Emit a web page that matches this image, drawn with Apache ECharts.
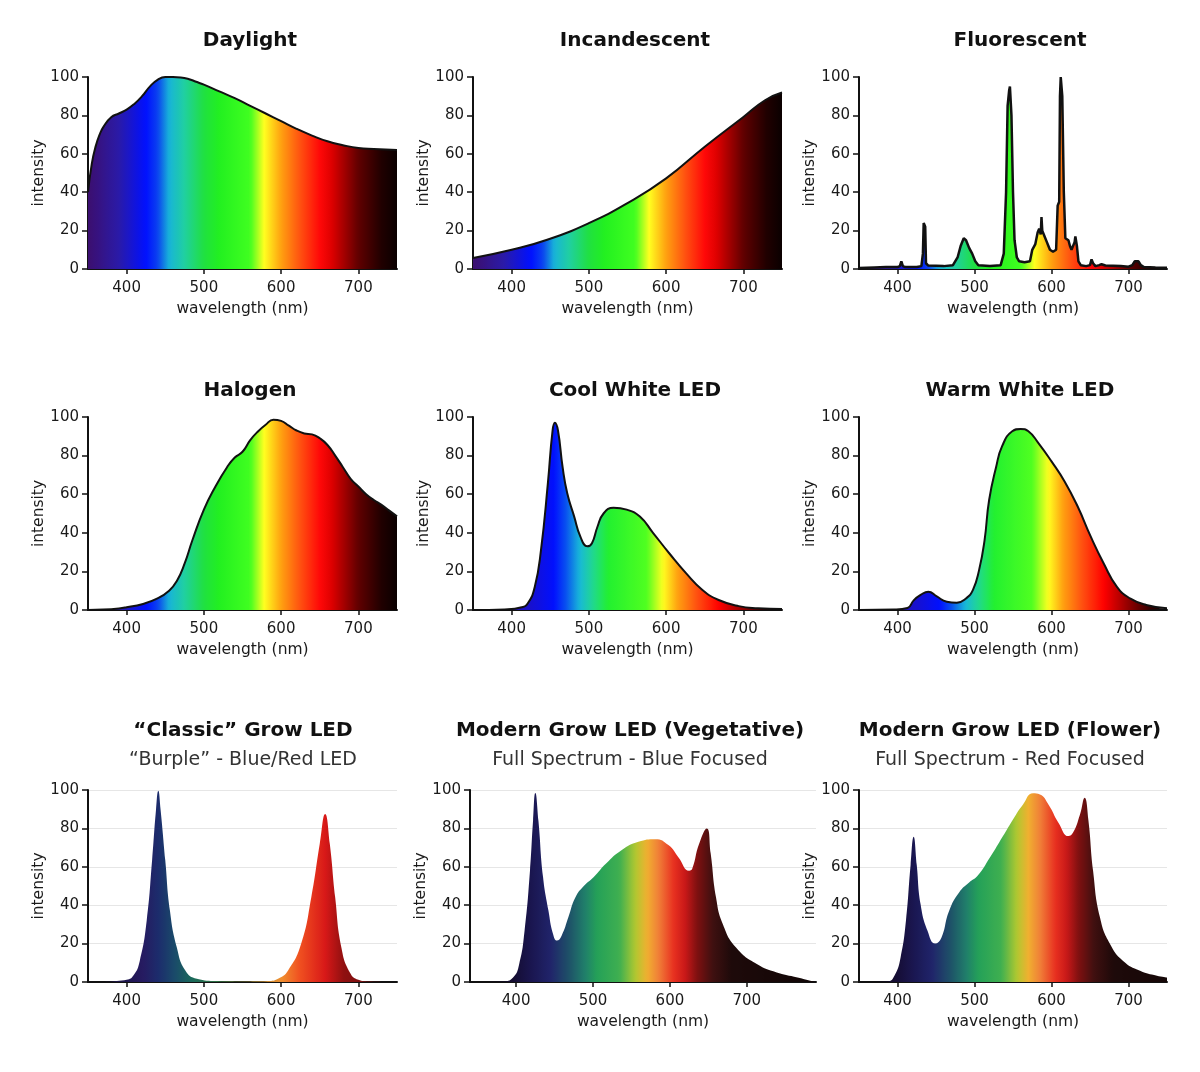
<!DOCTYPE html>
<html>
<head>
<meta charset="utf-8">
<script src="https://cdn.jsdelivr.net/npm/echarts@6/dist/echarts.min.js"></script>
<style>
	html, body { margin: 0; padding: 0; background: #fff; }
	#chart { width: 1200px; height: 1072px; }
</style>
</head>
<body>
<div id="chart"></div>
<script>
// wavelength (nm), intensity (0-100)
var daylight = [[350,40],[355,55],[360,64],[365,70],[370,74],[380,79],[390,81],[400,83],[410,86],[420,90],[430,95],[440,98.5],[450,100],[460,100],[470,99.8],[480,99],[490,97.5],[500,96],[520,92.5],[540,89],[560,85],[580,81],[600,77],[620,73],[640,69.5],[660,66.5],[680,64.5],[700,63],[720,62.5],[750,62]];
var incandescent = [[350,5.7],[400,10],[446,15.2],[500,23.9],[550,34.3],[600,47.2],[650,63.7],[700,79.2],[728,87.9],[750,91.9]];
var fluorescent = [[350,0.5],[370,0.8],[385,1],[400,1],[403,1.5],[405,4],[407,1.5],[410,1],[425,1],[431,1.5],[433,8],[434,24],[436,22],[437,3],[440,1.8],[460,1.5],[472,2],[478,6],[482,12],[486,16],[489,15],[493,11],[497,8],[501,4],[505,2],[520,1.5],[534,2],[538,8],[541,40],[543,85],[545,93],[546,95],[548,80],[550,40],[552,15],[555,6],[558,4],[565,3.5],[572,4],[575,10],[579,13],[582,19],[584,21],[586,18],[587,27],[588,20],[590,18],[592,17],[594,14],[596,12],[598,10],[600,11],[602,9],[604,8],[606,10],[608,33],[610,35],[611,90],[612,100],[613,99],[614,90],[616,40],[618,16],[620,15],[622,15],[624,12],[626,10],[628,10],[630,14],[631,17],[633,12],[635,4],[638,2],[645,1.5],[650,2],[652,5],[654,3],[657,1.5],[662,2],[665,2.5],[670,1.8],[690,1.5],[700,1.2],[705,2],[708,4],[710,5],[713,4],[716,2],[720,1],[735,0.8],[750,0.7]];
var halogen = [[350,0],[370,0.2],[390,0.8],[400,1.4],[420,3],[440,6],[455,10],[465,15],[475,24],[485,36],[500,52],[515,64],[530,74],[540,79],[550,82],[560,88],[570,92.5],[580,96],[590,98.6],[600,98],[610,95.5],[620,93],[630,91.5],[640,91],[650,89],[660,85.5],[670,80],[680,74],[690,68],[700,64],[710,60],[720,57],[730,54.5],[740,51.5],[750,48.5]];
var coolWhite = [[350,0],[391,0.3],[413,1.4],[421,3.5],[430,12],[438,31],[447,66],[453,93],[456,97],[460,93],[466,74],[472,60.5],[481,48.4],[489,38],[498,33],[504,34.6],[511,43],[519,50],[532,53],[549,52],[566,48.4],[583,40],[604,29.4],[626,19],[647,10.4],[668,5.2],[694,2],[719,0.9],[750,0.5]];
var warmWhite = [[350,0],[396,0.2],[413,1],[421,5],[430,7.8],[440,9.5],[451,7],[464,4.3],[477,3.8],[489,6],[498,10.4],[506,20.8],[513,36],[519,57],[528,74],[536,85],[549,92.6],[560,93.8],[570,92.6],[583,86.5],[600,77],[617,66.6],[634,53.6],[651,38],[668,24],[685,12],[702,6],[723,2.6],[750,0.9]];
var classicGrow = [[365,0],[400,1.2],[409,3.5],[417,11],[426,32],[433,63.5],[438,89.6],[441,99.6],[444,89.6],[450,63.5],[456,37.4],[465,18],[476,6],[491,1.7],[517,0.5],[550,0.3],[583,0.5],[596,1.7],[609,6],[626,20],[639,44],[650,72],[657,87.5],[663,72],[670,44],[678,18],[689,5],[700,1.2],[713,0.3],[750,0]];
var vegGrow = [[340,0],[382,0.3],[396,2.4],[404,9.4],[411,26.8],[418,58],[422,84],[425,98.4],[429,84],[435,54.7],[442,37.3],[448,25],[453,21.6],[459,24],[468,33.8],[477,44],[488,50],[501,54.7],[517,61.7],[537,68.6],[559,73],[581,74.4],[598,71.3],[611,65],[625,58],[629,59],[638,72],[648,80],[653,67],[660,44],[669,30],[686,18],[713,9.4],[739,5],[766,2.4],[790,0]];
var flowerGrow = [[350,0],[387,0.3],[396,3.3],[404,12.8],[411,32],[417,61],[421,75.6],[425,61],[430,40.5],[439,26.7],[449,20],[457,23],[467,37],[480,46.6],[493,51.8],[504,55.3],[520,64.8],[537,76],[550,84.7],[563,92.5],[576,98.3],[585,97.7],[596,92.5],[609,83],[622,76],[628,77.8],[637,87.3],[643,96],[648,84],[654,58],[663,33.6],[676,19.8],[693,11],[715,5.9],[737,3.3],[750,2.4]];

var xTicks = [400, 500, 600, 700];

// colour along the wavelength, [nm, colour]
var rainbow = [[350,'#3c0f6e'],[390,'#2a1aa8'],[425,'#0010ff'],[440,'#0a40f0'],[455,'#18b4d8'],[475,'#20d0a0'],[500,'#20e040'],[520,'#22f020'],[560,'#40ff20'],[578,'#ffff20'],[600,'#ffa010'],[625,'#ff5010'],[650,'#ff0808'],[665,'#e00000'],[700,'#600000'],[730,'#200000'],[750,'#0a0000']];
var ledRainbow = [[350,'#3c0f6e'],[420,'#1a10c8'],[455,'#0010ff'],[470,'#0850f0'],[488,'#18b8d8'],[505,'#20d890'],[525,'#22f030'],[575,'#50ff20'],[596,'#ffff20'],[615,'#ffa010'],[640,'#ff5010'],[668,'#ff0000'],[700,'#900000'],[730,'#300000'],[750,'#100000']];
var growColors = [[340,'#100818'],[395,'#140c30'],[420,'#1a1650'],[445,'#20246a'],[470,'#1e5468'],[490,'#20806a'],[505,'#24a058'],[535,'#40b050'],[555,'#b0c830'],[570,'#f0b030'],[585,'#f08038'],[605,'#e83020'],[620,'#c81818'],[635,'#801010'],[655,'#401010'],[680,'#1e0a0a'],[790,'#100606']];
var classicColors = [[350,'#101028'],[420,'#261a60'],[441,'#1c2c6c'],[462,'#1a4a6a'],[485,'#1a6a5a'],[520,'#307040'],[600,'#f09030'],[624,'#f05020'],[657,'#d81818'],[681,'#901010'],[750,'#501010']];

var FONT = '"DejaVu Sans", "Noto Sans", sans-serif';

function hexRgb(h) {
	return [parseInt(h.substr(1,2),16), parseInt(h.substr(3,2),16), parseInt(h.substr(5,2),16)];
}

function sample(pal, w) {
	if (w <= pal[0][0]) return pal[0][1];
	for (var i = 1; i < pal.length; i++) {
		if (w <= pal[i][0]) {
			var t = (w - pal[i-1][0]) / (pal[i][0] - pal[i-1][0]);
			var a = hexRgb(pal[i-1][1]), b = hexRgb(pal[i][1]);
			return 'rgb(' + Math.round(a[0]+(b[0]-a[0])*t) + ',' + Math.round(a[1]+(b[1]-a[1])*t) + ',' + Math.round(a[2]+(b[2]-a[2])*t) + ')';
		}
	}
	return pal[pal.length-1][1];
}

// horizontal gradient over the data extent of the area
function spectrum(pal, pts) {
	var x0 = pts[0][0], x1 = pts[pts.length-1][0];
	var stops = [];
	for (var w = x0; w < x1; w += 4) {
		stops.push({offset: (w - x0) / (x1 - x0), color: sample(pal, w)});
	}
	stops.push({offset: 1, color: sample(pal, x1)});
	return new echarts.graphic.LinearGradient(0, 0, 1, 0, stops);
}

var panels = [
	{title: 'Daylight', data: daylight, pal: rainbow, left: 88, top: 77, width: 309, height: 192, cx: 250, ty: 41},
	{title: 'Incandescent', data: incandescent, pal: rainbow, left: 473, top: 77, width: 309, height: 192, cx: 635, ty: 41},
	{title: 'Fluorescent', data: fluorescent, pal: rainbow, left: 859, top: 77, width: 308, height: 192, cx: 1020, ty: 41, sharp: true},
	{title: 'Halogen', data: halogen, pal: rainbow, left: 88, top: 417, width: 309, height: 193, cx: 250, ty: 391},
	{title: 'Cool White LED', data: coolWhite, pal: ledRainbow, left: 473, top: 417, width: 309, height: 193, cx: 635, ty: 391},
	{title: 'Warm White LED', data: warmWhite, pal: ledRainbow, left: 859, top: 417, width: 308, height: 193, cx: 1020, ty: 391},
	{title: '\u201cClassic\u201d Grow LED', sub: '\u201cBurple\u201d - Blue/Red LED', data: classicGrow, pal: classicColors, left: 88, top: 790, width: 309, height: 192, cx: 243, ty: 731, grow: true},
	{title: 'Modern Grow LED (Vegetative)', sub: 'Full Spectrum - Blue Focused', data: vegGrow, pal: growColors, left: 470, top: 790, width: 346, height: 192, cx: 630, ty: 731, grow: true, min: 340, max: 790},
	{title: 'Modern Grow LED (Flower)', sub: 'Full Spectrum - Red Focused', data: flowerGrow, pal: growColors, left: 859, top: 790, width: 308, height: 192, cx: 1010, ty: 731, grow: true}
];

var grids = [], xAxes = [], yAxes = [], series = [], texts = [];

panels.forEach(function(p, i) {
	grids.push({left: p.left, top: p.top, width: p.width, height: p.height});
	xAxes.push({
		gridIndex: i, type: 'value',
		min: p.min || 350, max: p.max || 750,
		name: 'wavelength (nm)', nameLocation: 'middle', nameGap: 32,
		nameTextStyle: {fontFamily: FONT, fontSize: 15.5, color: '#1a1a1a'},
		axisLine: {show: true, onZero: false, lineStyle: {color: '#111', width: 2}},
		axisTick: {show: true, length: 5, customValues: xTicks, lineStyle: {color: '#111', width: 1.5}},
		axisLabel: {fontFamily: FONT, fontSize: 15, color: '#1a1a1a', margin: 12, customValues: xTicks},
		splitLine: {show: false}
	});
	yAxes.push({
		gridIndex: i, type: 'value', min: 0, max: 100, interval: 20,
		name: 'intensity', nameLocation: 'middle', nameGap: 35, nameRotate: 90,
		nameTextStyle: {fontFamily: FONT, fontSize: 15.5, color: '#1a1a1a'},
		axisLine: {show: true, lineStyle: {color: '#111', width: 2}},
		axisTick: {show: true, length: 6, lineStyle: {color: '#111', width: 1.5}},
		axisLabel: {fontFamily: FONT, fontSize: 15, color: '#1a1a1a', margin: 9},
		splitLine: {show: !!p.grow, lineStyle: {color: '#e6e6e6', width: 1}}
	});
	series.push({
		type: 'line', xAxisIndex: i, yAxisIndex: i,
		data: p.data,
		showSymbol: false,
		smooth: p.sharp ? false : 0.5,
		lineStyle: p.grow ? {width: 0} : {color: '#111', width: p.sharp ? 2.5 : 2},
		areaStyle: {color: spectrum(p.pal, p.data), opacity: 1},
		z: 2
	});
	texts.push({
		type: 'text', x: p.cx, y: p.ty,
		style: {text: p.title, fontFamily: FONT, fontSize: 20, fontWeight: 'bold', fill: '#111', textAlign: 'center', textVerticalAlign: 'middle'}
	});
	if (p.sub) {
		texts.push({
			type: 'text', x: p.cx, y: p.ty + 29,
			style: {text: p.sub, fontFamily: FONT, fontSize: 19, fill: '#333', textAlign: 'center', textVerticalAlign: 'middle'}
		});
	}
});

var chart = echarts.init(document.getElementById('chart'));
chart.setOption({
	animation: false,
	backgroundColor: '#fff',
	grid: grids,
	xAxis: xAxes,
	yAxis: yAxes,
	series: series,
	graphic: texts
});
</script>
</body>
</html>
